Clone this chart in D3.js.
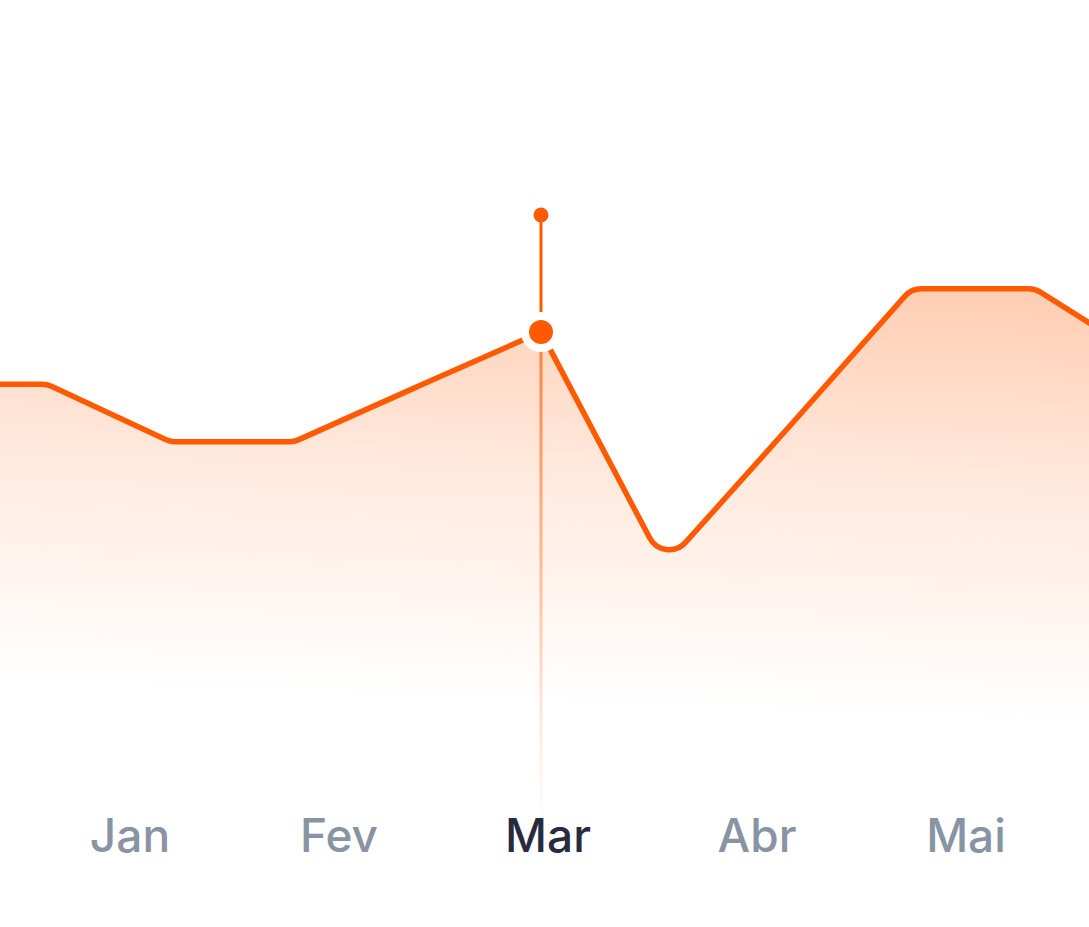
<!DOCTYPE html>
<html>
<head>
<meta charset="utf-8">
<script src="https://cdn.jsdelivr.net/npm/d3@7"></script>
<style>
  html, body { margin: 0; padding: 0; background: #ffffff; }
  svg { display: block; }
</style>
</head>
<body>
<svg id="chart" width="1089" height="927"></svg>
<script>
// ---- data ----
const months = ["Jan", "Fev", "Mar", "Abr", "Mai"];
const activeMonth = "Mar";
const pointIndex = [-1, 0, 1, 2, 3, 4, 5, 6, 7, 8, 9];
const values = [69.3, 69.3, 59.7, 59.7, 68.9, 78.0, 39.0, 62.0, 85.2, 85.2, 72.3];
const activeIndex = 4;
const markerValue = 97.5;

// ---- setup ----
const W = 1089, H = 927;
const svg = d3.select("#chart");
const orange = "#FF5A00";

const x = d3.scaleLinear().domain([0, 8]).range([47, 1035]);
const y = d3.scaleLinear().domain([0, 100]).range([800, 200]);
const xMonth = d3.scalePoint().domain(months).range([130, 966]);

// rounded-corner curve
function roundedCurve(radius) {
  return function(context) {
    let pts = [];
    return {
      areaStart() {}, areaEnd() {},
      lineStart() { pts = []; },
      point(px, py) { pts.push([+px, +py]); },
      lineEnd() {
        if (!pts.length) return;
        context.moveTo(pts[0][0], pts[0][1]);
        for (let i = 1; i < pts.length - 1; i++) {
          context.arcTo(pts[i][0], pts[i][1], pts[i + 1][0], pts[i + 1][1], radius);
        }
        const last = pts[pts.length - 1];
        context.lineTo(last[0], last[1]);
      }
    };
  };
}

const data = pointIndex.map((d, i) => ({ i: d, v: values[i] }));

const line = d3.line()
  .x(d => x(d.i))
  .y(d => y(d.v))
  .curve(roundedCurve(22));

const defs = svg.append("defs");
const ag = defs.append("linearGradient")
  .attr("id", "areaGrad")
  .attr("gradientUnits", "userSpaceOnUse")
  .attr("x1", 548).attr("y1", 285)
  .attr("x2", 532).attr("y2", 702);
ag.append("stop").attr("offset", 0).attr("stop-color", orange).attr("stop-opacity", 0.29);
ag.append("stop").attr("offset", 0.45).attr("stop-color", orange).attr("stop-opacity", 0.13);
ag.append("stop").attr("offset", 1).attr("stop-color", orange).attr("stop-opacity", 0);

const vg = defs.append("linearGradient")
  .attr("id", "vGrad")
  .attr("gradientUnits", "userSpaceOnUse")
  .attr("x1", 0).attr("y1", y(data[activeIndex + 1].v))
  .attr("x2", 0).attr("y2", 822);
vg.append("stop").attr("offset", 0).attr("stop-color", orange).attr("stop-opacity", 0.7);
vg.append("stop").attr("offset", 1).attr("stop-color", orange).attr("stop-opacity", 0);

// area
const linePath = line(data);
const first = data[0], last = data[data.length - 1];
svg.append("path")
  .attr("d", linePath + `L${x(last.i)},${y(0)}L${x(first.i)},${y(0)}Z`)
  .attr("fill", "url(#areaGrad)");

// vertical guide below active point
const ax = x(data[activeIndex + 1].i);
const ay = y(data[activeIndex + 1].v);
svg.append("line")
  .attr("x1", ax).attr("x2", ax)
  .attr("y1", ay).attr("y2", 822)
  .attr("stroke", "url(#vGrad)")
  .attr("stroke-width", 3);

// line
svg.append("path")
  .attr("d", linePath)
  .attr("fill", "none")
  .attr("stroke", orange)
  .attr("stroke-width", 5.5)
  .attr("stroke-linejoin", "round");

// marker stem above active point
svg.append("line")
  .attr("x1", ax).attr("x2", ax)
  .attr("y1", y(markerValue)).attr("y2", ay)
  .attr("stroke", orange)
  .attr("stroke-width", 3);
svg.append("circle")
  .attr("cx", ax).attr("cy", y(markerValue))
  .attr("r", 7.5)
  .attr("fill", orange);

// active point
svg.append("circle")
  .attr("cx", ax).attr("cy", ay)
  .attr("r", 16)
  .attr("fill", orange)
  .attr("stroke", "#ffffff")
  .attr("stroke-width", 8);

// month labels
svg.append("g")
  .selectAll("text")
  .data(months)
  .join("text")
  .attr("x", d => xMonth(d))
  .attr("y", 852)
  .attr("text-anchor", "middle")
  .attr("font-family", "Inter, 'Noto Sans', sans-serif")
  .attr("font-size", 46)
  .attr("font-weight", 500)
  .attr("fill", d => d === activeMonth ? "#272B3D" : "#8893A4")
  .text(d => d);
</script>
</body>
</html>
